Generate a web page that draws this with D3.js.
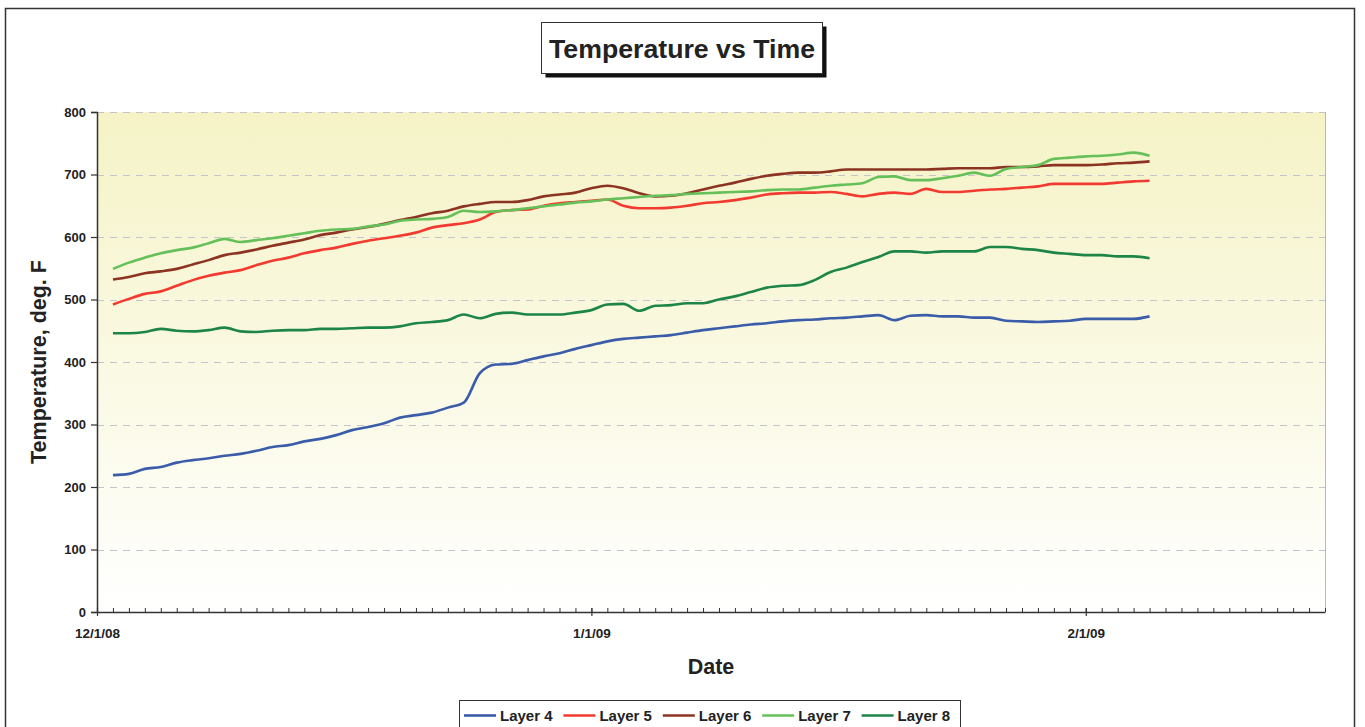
<!DOCTYPE html>
<html><head><meta charset="utf-8">
<script src="https://cdn.jsdelivr.net/npm/d3@7/dist/d3.min.js"></script>
<style>
html,body{margin:0;padding:0;background:#fff;}
svg{display:block;font-family:"Liberation Sans",Arial,Helvetica,sans-serif;}
</style></head>
<body>
<svg id="chart" width="1365" height="727"></svg>
<script>
// ---- data ----
const startDate = "2008-12-02";   // first reading
const endDate   = "2009-02-05";   // last reading
const seriesNames = ["Layer 4","Layer 5","Layer 6","Layer 7","Layer 8"];
const layer4 = [219,221,229,232,239,243,246,250,253,258,264,267,273,277,283,291,296,302,311,315,319,327,335,382,396,397,403,409,414,421,427,433,437,439,441,443,447,451,454,457,460,462,465,467,468,470,471,473,475,467,474,475,473,473,471,471,466,465,464,465,466,469,469,469,469,473];
const layer5 = [492,501,509,513,522,531,538,543,547,555,562,567,574,579,583,589,594,598,602,607,615,619,622,628,640,643,644,650,654,656,658,660,650,646,646,647,650,654,656,659,663,668,670,671,671,672,669,665,669,671,669,677,672,672,674,676,677,679,681,685,685,685,685,687,689,690];
const layer6 = [532,536,542,545,549,556,563,571,575,580,586,591,596,603,607,612,616,621,627,632,638,642,649,653,656,656,659,665,668,671,678,682,678,670,665,666,670,676,682,687,693,698,701,703,703,705,708,708,708,708,708,708,709,710,710,710,712,712,713,715,715,715,716,718,719,721];
const layer7 = [549,559,567,574,579,583,590,597,592,595,598,602,606,610,612,613,617,620,626,628,629,632,642,640,641,643,646,649,652,655,657,660,662,664,666,667,669,670,671,672,673,675,676,676,679,682,684,686,696,697,691,691,694,698,703,698,709,712,715,725,727,729,730,732,735,730];
const layer8 = [446,446,448,453,450,449,451,455,449,448,450,451,451,453,453,454,455,455,457,462,464,467,476,470,477,479,476,476,476,479,483,492,493,482,490,491,494,494,500,505,512,519,522,523,531,544,551,560,568,577,577,575,577,577,577,584,584,581,579,575,573,571,571,569,569,566];
const seriesValues = [layer4, layer5, layer6, layer7, layer8];
const seriesColors = ["#3a5ca9","#f23a30","#8c3322","#66c05a","#1d8548"];
const yTicks = [0,100,200,300,400,500,600,700,800];
const xDomain = ["2008-12-01","2009-02-16"];
const titleText = "Temperature vs Time";
const xTitle = "Date";
const yTitle = "Temperature, deg. F";

// ---- layout ----
const parse = d3.timeParse("%Y-%m-%d");
const dates = d3.timeDay.range(parse(startDate), d3.timeDay.offset(parse(endDate), 1));
const plot = {l: 97, r: 1325, t: 112, b: 612};

const svg = d3.select("#chart");
const defs = svg.append("defs");
const grad = defs.append("linearGradient").attr("id","bg").attr("x1",0).attr("y1",0).attr("x2",0).attr("y2",1);
grad.append("stop").attr("offset","0%").attr("stop-color","#f5f3c6");
grad.append("stop").attr("offset","100%").attr("stop-color","#ffffff");

// outer frame
svg.append("rect").attr("x",5.5).attr("y",8.5).attr("width",1349).attr("height",760)
  .attr("fill","#fff").attr("stroke","#333").attr("stroke-width",1.5);

const x = d3.scaleTime().domain(xDomain.map(parse)).range([plot.l, plot.r]);
const y = d3.scaleLinear().domain([0, 800]).range([plot.b, plot.t]);

// plot background
svg.append("rect").attr("x",plot.l).attr("y",plot.t).attr("width",plot.r-plot.l).attr("height",plot.b-plot.t)
  .attr("fill","url(#bg)");
// right border
svg.append("line").attr("x1",plot.r+0.5).attr("x2",plot.r+0.5).attr("y1",plot.t).attr("y2",plot.b)
  .attr("stroke","#b8b8b8").attr("stroke-width",1);

// gridlines
svg.append("g").selectAll("line").data(yTicks.filter(v=>v>0)).join("line")
  .attr("x1",plot.l).attr("x2",plot.r)
  .attr("y1",d=>Math.round(y(d))+0.5).attr("y2",d=>Math.round(y(d))+0.5)
  .attr("stroke","#c4c4cc").attr("stroke-width",1.2).attr("stroke-dasharray","7,6");

// lines
const line = d3.line().x((d,i)=>x(dates[i])).y(d=>y(d)).curve(d3.curveMonotoneX);
svg.append("g").selectAll("path").data(seriesValues).join("path")
  .attr("d", d=>line(d)).attr("fill","none")
  .attr("stroke",(d,i)=>seriesColors[i]).attr("stroke-width",2.6).attr("stroke-linejoin","round");

// y axis
const yAxis = svg.append("g").attr("transform",`translate(${plot.l},0)`)
  .call(d3.axisLeft(y).tickValues(yTicks).tickSize(6).tickPadding(5).tickFormat(d3.format("d")));
yAxis.select(".domain").attr("stroke","#333").attr("stroke-width",1.5);
yAxis.selectAll(".tick line").attr("stroke","#333").attr("stroke-width",1.2);
yAxis.selectAll("text").attr("font-size",13).attr("font-weight","bold").attr("fill","#222")
  .attr("font-family","Liberation Sans, Arial, sans-serif");

// x axis minor ticks (daily)
const xMinor = svg.append("g").attr("transform",`translate(0,${plot.b})`)
  .call(d3.axisBottom(x).ticks(d3.timeDay.every(1)).tickSize(-4).tickFormat(""));
xMinor.select(".domain").remove();
xMinor.selectAll(".tick line").attr("stroke","#333").attr("stroke-width",1);

// x axis major (monthly)
const xAxis = svg.append("g").attr("transform",`translate(0,${plot.b})`)
  .call(d3.axisBottom(x).ticks(d3.timeMonth.every(1)).tickSize(4).tickPadding(12)
    .tickFormat(d3.timeFormat("%-m/%-d/%y")).tickSizeOuter(0));
xAxis.select(".domain").attr("stroke","#333").attr("stroke-width",1.5);
xAxis.selectAll(".tick line").attr("stroke","#333").attr("stroke-width",1.2).attr("y1",-4);
xAxis.selectAll("text").attr("font-size",13.5).attr("font-weight","bold").attr("fill","#222")
  .attr("font-family","Liberation Sans, Arial, sans-serif");

// axis titles
svg.append("text").attr("x",(plot.l+plot.r)/2).attr("y",673.5).attr("text-anchor","middle")
  .attr("font-size",21.5).attr("font-weight","bold").attr("fill","#222").text(xTitle);
svg.append("text").attr("transform",`translate(46,${(plot.t+plot.b)/2}) rotate(-90)`).attr("text-anchor","middle")
  .attr("font-size",21.5).attr("font-weight","bold").attr("fill","#222").text(yTitle);

// title box
svg.append("rect").attr("x",545.5).attr("y",26.5).attr("width",281).attr("height",51).attr("fill","#111");
svg.append("rect").attr("x",541.5).attr("y",22.5).attr("width",281).attr("height",51)
  .attr("fill","#fff").attr("stroke","#333").attr("stroke-width",1);
svg.append("text").attr("x",682).attr("y",58).attr("text-anchor","middle")
  .attr("font-size",26.7).attr("font-weight","bold").attr("fill","#222").text(titleText);

// legend
const lg = svg.append("g");
lg.append("rect").attr("x",459.5).attr("y",700.5).attr("width",501).attr("height",40)
  .attr("fill","#fff").attr("stroke","#333").attr("stroke-width",1);
const items = lg.selectAll("g.item").data(seriesNames).join("g").attr("class","item")
  .attr("transform",(d,i)=>`translate(${464 + i*99.4},0)`);
items.append("line").attr("x1",0).attr("x2",32).attr("y1",715.5).attr("y2",715.5)
  .attr("stroke",(d,i)=>seriesColors[i]).attr("stroke-width",2.6);
items.append("text").attr("x",36).attr("y",720.5).attr("font-size",15).attr("font-weight","bold")
  .attr("fill","#222").text(d=>d);
</script>
</body></html>
